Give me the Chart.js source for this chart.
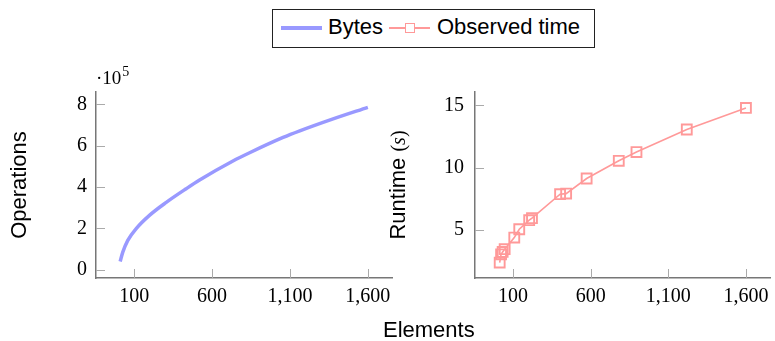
<!DOCTYPE html>
<html><head><meta charset="utf-8">
<script src="https://cdn.jsdelivr.net/npm/chart.js@4.4.1/dist/chart.umd.min.js"></script>
<style>
html,body{margin:0;padding:0;background:#fff;overflow:hidden;}
#wrap{position:relative;width:775px;height:341px;overflow:hidden;}
canvas{position:absolute;top:0;}
#c1{left:0;} #c2{left:380px;}
.txt{position:absolute;font-family:"Liberation Sans",Arial,sans-serif;font-size:22px;line-height:22px;white-space:nowrap;color:#000;}
#legend{position:absolute;left:272px;top:9px;width:323px;height:39px;border:1.3px solid #222;box-sizing:border-box;background:#fff;}
#legend .ln{position:absolute;}
</style></head>
<body>
<div id="wrap">
  <canvas id="c1" width="420" height="341"></canvas>
  <canvas id="c2" width="420" height="341"></canvas>
  <div id="legend">
    <div class="ln" style="left:8px;top:16px;width:41px;height:3.5px;background:#9999ff;"></div>
    <div class="txt" style="left:55px;top:6px;">Bytes</div>
    <div class="ln" style="left:116px;top:17px;width:41px;height:1.8px;background:#ff9999;"></div>
    <div class="ln" style="left:132px;top:13.2px;width:10px;height:10px;border:1.8px solid #ff9999;box-sizing:border-box;background:#fff;"></div>
    <div class="txt" style="left:164px;top:6px;">Observed time</div>
  </div>
  <div class="txt" style="left:383px;top:319px;">Elements</div>
</div>
<script>
// ---- data ----
const xTicks = [100, 600, 1100, 1600];
const opsTicks = [0, 200000, 400000, 600000, 800000];
const timeTicks = [5, 10, 15];

const bytesElements = [10, 27, 59, 113, 198, 306, 434, 520, 734, 841, 1056, 1163, 1377, 1600];
const bytesOps = [40000, 85000, 142000, 199000, 263000, 326000, 392000, 434000, 526000, 566000, 640000, 672000, 730000, 786000];

const timeElements = [14, 23, 33, 46, 108, 140, 204, 222, 403, 442, 574, 781, 895, 1219, 1600];
const timeSeconds = [2.4, 3.06, 3.25, 3.47, 4.4, 5.07, 5.8, 5.96, 7.88, 7.93, 9.14, 10.56, 11.26, 13.07, 14.8];

// ---- helpers ----
const SERIF = '"Liberation Serif", "Times New Roman", serif';
const SANS = '"Liberation Sans", Arial, sans-serif';
const AXIS_COLOR = '#777';
const TICK_COLOR = '#aaa';

function xScale() {
  return {
    type: 'linear', min: -145, max: 1755,
    afterBuildTicks: s => { s.ticks = xTicks.map(v => ({ value: v })); },
    afterFit: s => { s.height = 40; },
    grid: { display: true, drawOnChartArea: false, drawTicks: false },
    border: { display: true, color: AXIS_COLOR, width: 1.5 },
    ticks: { padding: 7, color: '#000', font: { family: SERIF, size: 20 }, maxRotation: 0, autoSkip: false,
      callback: v => Number(v).toLocaleString('en-US') }
  };
}
function yScale(min, max, ticks, width, pad, fmt) {
  return {
    type: 'linear', min: min, max: max,
    afterBuildTicks: s => { s.ticks = ticks.map(v => ({ value: v })); },
    afterFit: s => { s.width = width; },
    grid: { display: true, drawOnChartArea: false, drawTicks: false },
    border: { display: true, color: AXIS_COLOR, width: 1.5 },
    ticks: { padding: pad, color: '#000', font: { family: SERIF, size: 20 }, autoSkip: false, callback: fmt }
  };
}
const tickMarks = {
  id: 'tickMarks',
  beforeDatasetsDraw(chart) {
    const ctx = chart.ctx, a = chart.chartArea, xs = chart.scales.x, ys = chart.scales.y;
    ctx.save(); ctx.strokeStyle = TICK_COLOR; ctx.lineWidth = 1; ctx.beginPath();
    xs.ticks.forEach(t => { const p = Math.round(xs.getPixelForValue(t.value)) + 0.5; ctx.moveTo(p, a.bottom); ctx.lineTo(p, a.bottom - 9); });
    ys.ticks.forEach(t => { const p = Math.round(ys.getPixelForValue(t.value)) + 0.5; ctx.moveTo(a.left, p); ctx.lineTo(a.left + 9, p); });
    ctx.stroke(); ctx.restore();
  }
};
function yTitle(segments, baseX) {
  return {
    id: 'yTitle',
    afterDraw(chart) {
      const ctx = chart.ctx, a = chart.chartArea;
      ctx.save(); ctx.translate(baseX, (a.top + a.bottom) / 2); ctx.rotate(-Math.PI / 2);
      ctx.textBaseline = 'alphabetic'; ctx.textAlign = 'left'; ctx.fillStyle = '#000';
      let total = 0;
      segments.forEach(s => { ctx.font = s.font; s.w = ctx.measureText(s.text).width; total += s.w; });
      let x = -total / 2;
      segments.forEach(s => { ctx.font = s.font; ctx.fillText(s.text, x, 0); x += s.w; });
      ctx.restore();
    }
  };
}
const exponentLabel = {
  id: 'exponentLabel',
  afterDraw(chart) {
    const ctx = chart.ctx, a = chart.chartArea;
    ctx.save(); ctx.fillStyle = '#000'; ctx.textBaseline = 'alphabetic'; ctx.textAlign = 'left';
    ctx.font = '19px ' + SERIF;
    const t = '\u00B710';
    ctx.fillText(t, a.left, 84);
    const w = ctx.measureText(t).width;
    ctx.font = '14px ' + SERIF;
    ctx.fillText('5', a.left + w + 1, 76);
    ctx.restore();
  }
};
function baseOptions(yS, rightPad) {
  return {
    responsive: false, animation: false, devicePixelRatio: 1,
    layout: { padding: { top: 92, bottom: 23, left: 0, right: rightPad } },
    plugins: { legend: { display: false }, tooltip: { enabled: false } },
    scales: { x: xScale(), y: yS }
  };
}

new Chart(document.getElementById('c1'), {
  type: 'line',
  data: { datasets: [{
    label: 'Bytes',
    data: bytesElements.map((x, i) => ({ x: x, y: bytesOps[i] })),
    borderColor: '#9999ff', borderWidth: 3.5, pointRadius: 0, fill: false,
    cubicInterpolationMode: 'monotone', borderCapStyle: 'butt'
  }] },
  options: baseOptions(yScale(-40000, 860000, opsTicks, 96, 9, v => String(v / 100000)), 28),
  plugins: [tickMarks, exponentLabel, yTitle([{ text: 'Operations', font: '22px ' + SANS }], 26)]
});

new Chart(document.getElementById('c2'), {
  type: 'line',
  data: { datasets: [{
    label: 'Observed time',
    data: timeElements.map((x, i) => ({ x: x, y: timeSeconds[i] })),
    borderColor: '#ff9999', borderWidth: 1.6, fill: false, tension: 0,
    pointStyle: 'rect', pointRadius: 7, pointBorderWidth: 1.9,
    pointBorderColor: '#ff9999', pointBackgroundColor: 'rgba(0,0,0,0)'
  }] },
  options: baseOptions(yScale(1.16, 16.08, timeTicks, 95, 11, v => String(v)), 30),
  plugins: [tickMarks, yTitle([
    { text: 'Runtime ', font: '22px ' + SANS },
    { text: '(', font: '20px ' + SERIF },
    { text: 's', font: 'italic 20px ' + SERIF },
    { text: ')', font: '20px ' + SERIF }
  ], 25)]
});
</script>
</body></html>
